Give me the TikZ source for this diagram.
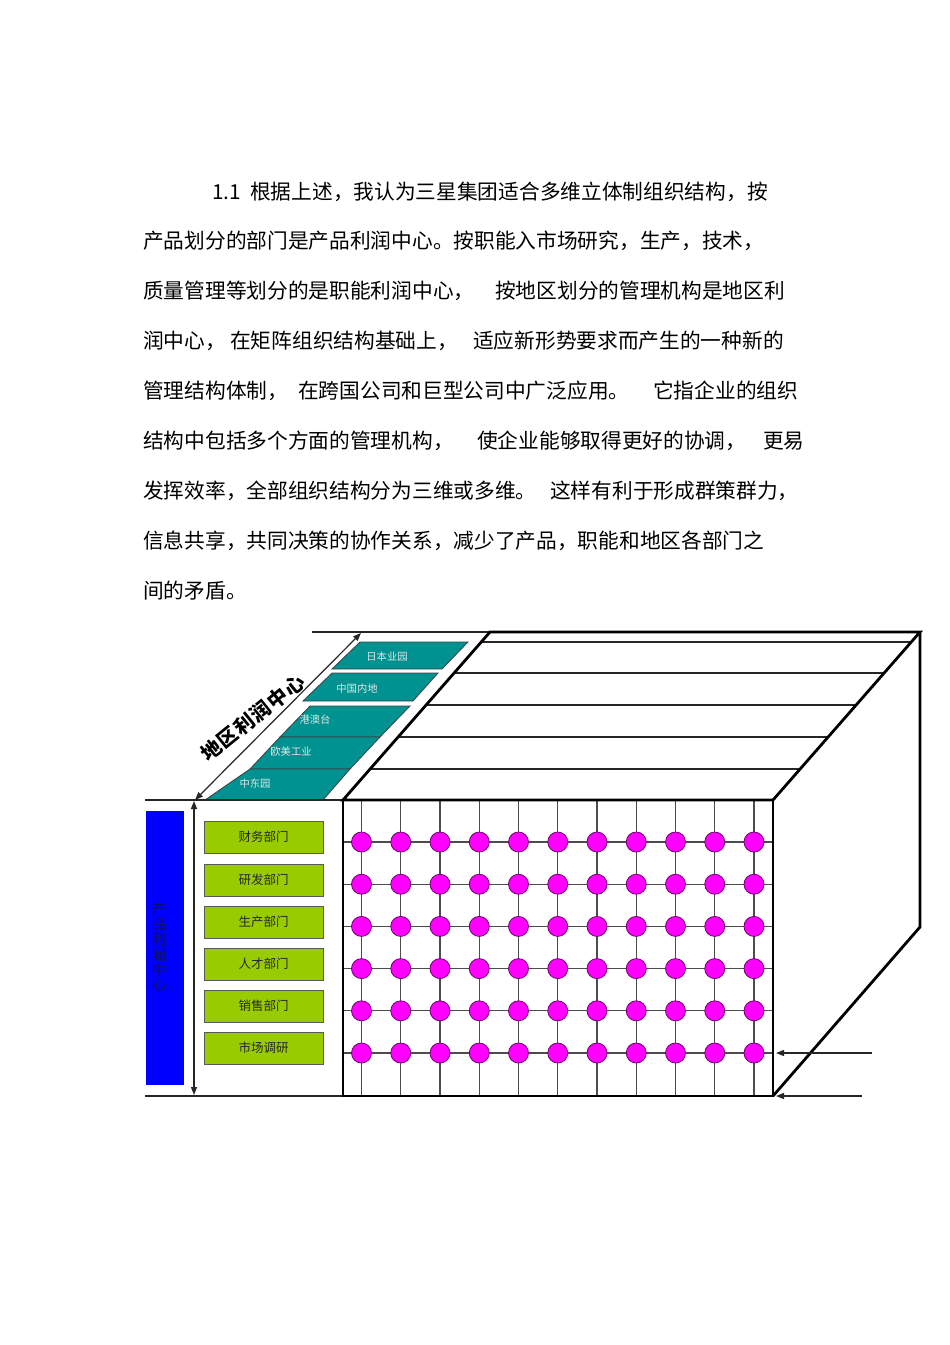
\documentclass[tikz,border=0pt]{standalone}
\usepackage{fontspec}
\newfontfamily\cjk{Noto Sans CJK SC}
\usetikzlibrary{arrows.meta}
\definecolor{tealc}{RGB}{0,145,145}
\definecolor{greenc}{RGB}{153,204,0}
\definecolor{magc}{RGB}{255,0,255}
\definecolor{navyc}{RGB}{15,15,100}
\definecolor{dotedge}{RGB}{110,0,110}
\begin{document}
\begin{tikzpicture}[x=1pt,y=-1pt,
 para/.style={anchor=base west, inner sep=0pt, font=\cjk\fontsize{20.7}{24}\selectfont},
 thinln/.style={line width=1.2pt, black!85},
 gridln/.style={line width=1.3pt, black!70},
 thickln/.style={line width=2.8pt, black, line join=miter},
 region/.style={fill=tealc, draw=black!75, line width=0.8pt},
 regtext/.style={font=\cjk\fontsize{10.3}{12}\selectfont, text=white!90!black, inner sep=0pt},
 dept/.style={fill=greenc, draw=black!65, line width=0.9pt, minimum width=119pt, minimum height=32pt, inner sep=0pt, font=\cjk\fontsize{12.5}{14}\selectfont, text=black!85},
 dot/.style={circle, fill=magc, draw=dotedge, line width=0.8pt, minimum size=20pt, inner sep=0pt},
 tip/.style={-{Triangle[length=8pt,width=6pt]}},
 dtip/.style={{Triangle[length=8pt,width=6pt]}-{Triangle[length=8pt,width=6pt]}},
 dqchar/.style={font=\cjk\bfseries\fontsize{20}{22}\selectfont, rotate=39, inner sep=0pt},
]
\useasboundingbox (0,0) rectangle (950,1345);

% ---------- paragraph ----------
\node[para] (p1a) at (212,199.7) {1.1};
\node[para] (p1b) at (250,199.7) {根据上述，我认为三星集团适合多维立体制组织结构，按};
\node[para] (p2) at (143,248.7) {产品划分的部门是产品利润中心。按职能入市场研究，生产，技术，};
\node[para] (p3a) at (143,298.7) {质量管理等划分的是职能利润中心，};
\node[para] (p3b) at (495,298.7) {按地区划分的管理机构是地区利};
\node[para] (p4a) at (143,348.7) {润中心，};
\node[para] (p4b) at (230,348.7) {在矩阵组织结构基础上，};
\node[para] (p4c) at (473,348.7) {适应新形势要求而产生的一种新的};
\node[para] (p5a) at (143,398.7) {管理结构体制，};
\node[para] (p5b) at (298,398.7) {在跨国公司和巨型公司中广泛应用。};
\node[para] (p5c) at (653,398.7) {它指企业的组织};
\node[para] (p6a) at (143,448.7) {结构中包括多个方面的管理机构，};
\node[para] (p6b) at (477,448.7) {使企业能够取得更好的协调，};
\node[para] (p6c) at (763,448.7) {更易};
\node[para] (p7a) at (143,498.7) {发挥效率，全部组织结构分为三维或多维。};
\node[para] (p7b) at (550,498.7) {这样有利于形成群策群力，};
\node[para] (p8) at (143,548.7) {信息共享，共同决策的协作关系，减少了产品，职能和地区各部门之};
\node[para] (p9) at (143,598.7) {间的矛盾。};

% ---------- box corners ----------
\coordinate (tl0) at (312,632);
\coordinate (bTL) at (490,632);
\coordinate (bTR) at (920,632);
\coordinate (fTL) at (343,800);
\coordinate (fTR) at (773,800);
\coordinate (fBL) at (343,1096);
\coordinate (fBR) at (773,1096);
\coordinate (bMR) at (920,927);

% top face thin lines
\foreach \yy in {642,673,705,737,769}
  \draw[thinln] ({490-0.875*(\yy-632)},\yy) -- ({920-0.875*(\yy-632)},\yy);
\draw[thinln] (tl0) -- (bTL);

% teal regions
\draw[region] (360,642) -- (468,642) -- (442,669) -- (332,669) -- cycle;
\draw[region] (332,673) -- (438,673) -- (413,701) -- (303,701) -- cycle;
\draw[region] (310,706) -- (410,706) -- (380,737) -- (280,737) -- cycle;
\draw[region] (280,737) -- (380,737) -- (350,769) -- (250,769) -- cycle;
\draw[region] (250,769) -- (350,769) -- (323,800) -- (205,800) -- cycle;
\node[regtext] (r1) at (387,657) {日本业园};
\node[regtext] (r2) at (357,689) {中国内地};
\node[regtext] (r3) at (315,720) {港澳台};
\node[regtext] (r4) at (291,752) {欧美工业};
\node[regtext] (r5) at (255,784) {中东园};

% left lines and arrows
\coordinate (lt) at (145,800);
\coordinate (lb) at (145,1096);
\draw[thinln] (lt) -- (fTL);
\draw[thinln] (lb) -- (fBL);
\coordinate (va1) at (194,801);
\coordinate (va2) at (194,1095);
\draw[thinln, dtip] (va1) -- (va2);
\coordinate (da1) at (195,800);
\coordinate (da2) at (361,633);
\draw[thinln, dtip] (da1) -- (da2);
\foreach \ch [count=\k from 0] in {地,区,利,润,中,心}
  \node[dqchar] (dq\k) at ({211+16.6*\k},{750-12.9*\k}) {\ch};

% blue bar
\node[fill=blue, minimum width=38pt, minimum height=274pt, inner sep=0pt] (bar) at (165,948) {};
\node[font=\cjk\fontsize{14}{15.2}\selectfont, text=navyc, align=center, inner sep=0pt] (barlbl) at (159,947) {产\\品\\利\\润\\中\\心};

% departments
\node[dept] (g1) at (263.5,837) {财务部门};
\node[dept] (g2) at (263.5,880) {研发部门};
\node[dept] (g3) at (263.5,922) {生产部门};
\node[dept] (g4) at (263.5,964) {人才部门};
\node[dept] (g5) at (263.5,1006) {销售部门};
\node[dept] (g6) at (263.5,1048) {市场调研};

% grid
\foreach \i in {0,...,10}
  \draw[gridln] ({361.5+39.25*\i},800) -- ({361.5+39.25*\i},1096);
\foreach \j in {0,...,5}
  \draw[gridln] (343,{842+42.2*\j}) -- (773,{842+42.2*\j});
\foreach \i in {0,...,10}
  \foreach \j in {0,...,5}
    \node[dot] (d-\i-\j) at ({361.5+39.25*\i},{842+42.2*\j}) {};

% thick box outline
\draw[thickln] (bTL) -- (bTR) -- (fTR) -- (fTL) -- cycle;
\draw[thickln] (fTL) rectangle (fBR);
\draw[thickln] (bTR) -- (bMR) -- (fBR);

% right arrows
\coordinate (ra1) at (872,1053);
\coordinate (ra2) at (776,1053);
\coordinate (rb1) at (862,1096);
\coordinate (rb2) at (776,1096);
\draw[thinln, tip] (ra1) -- (ra2);
\draw[thinln, tip] (rb1) -- (rb2);
\end{tikzpicture}
\end{document}
